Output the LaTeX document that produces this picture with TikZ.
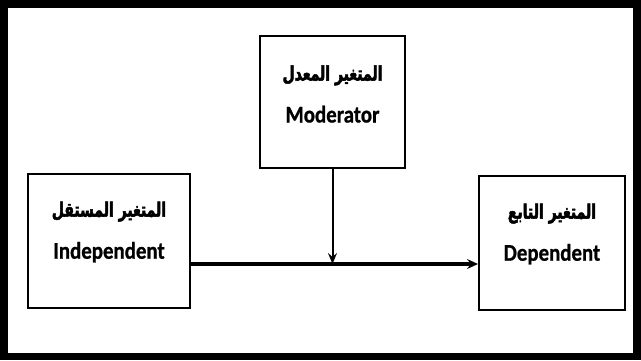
\documentclass[tikz,border=0pt]{standalone}
\usepackage{fontspec}
\setmainfont{Carlito}[FakeStretch=0.87, BoldFont={Carlito Bold}, BoldFeatures={FakeBold=0.8}]
\newfontfamily\arabicfont[Script=Arabic, FakeStretch=0.7, FakeBold=2.5]{DejaVu Sans}
\TeXXeTstate=1
\usetikzlibrary{positioning, arrows.meta}

\begin{document}
\begin{tikzpicture}[
    x=1pt, y=-1pt,
    varbox/.style={rectangle, draw=black, line width=2pt, inner sep=0pt},
    varname/.style={align=center, inner sep=0pt,
        font=\bfseries\fontsize{24}{26}\selectfont},
    flow/.style={line width=4pt, -{Stealth[length=11pt, width=10pt, inset=4pt]}},
    modlink/.style={line width=2pt, -{Stealth[length=11pt, width=9pt, inset=4pt]}},
]

\useasboundingbox (0,0) rectangle (641,360);
\draw[line width=7.5pt] (4,3.75) rectangle (637,356.25);

% the three variables
\node[varbox, minimum width=162pt, minimum height=134pt] (ind) at (109,241) {};
\node[varbox, minimum width=145pt, minimum height=132pt] (mod) at (332.5,102) {};
\node[varbox, minimum width=146pt, minimum height=134pt] (dep) at (552,243) {};

\node[varname] (indname) at ([yshift=9pt]ind.center)
    {{\arabicfont\fontsize{20}{20}\selectfont\beginR المتغير المستقل\endR}\\[16pt] Independent};
\node[varname] (modname) at ([yshift=8pt]mod.center)
    {{\arabicfont\fontsize{20}{20}\selectfont\beginR المتغير المعدل\endR}\\[16pt] Moderator};
\node[varname] (depname) at ([yshift=9pt]dep.center)
    {{\arabicfont\fontsize{20}{20}\selectfont\beginR المتغير التابع\endR}\\[16pt] Dependent};

% connectors
\coordinate (join) at (332.5,264);
\draw[flow] (ind.east |- join) -- (dep.west |- join);
\draw[modlink] (mod.south) -- (join);

\end{tikzpicture}
\end{document}
